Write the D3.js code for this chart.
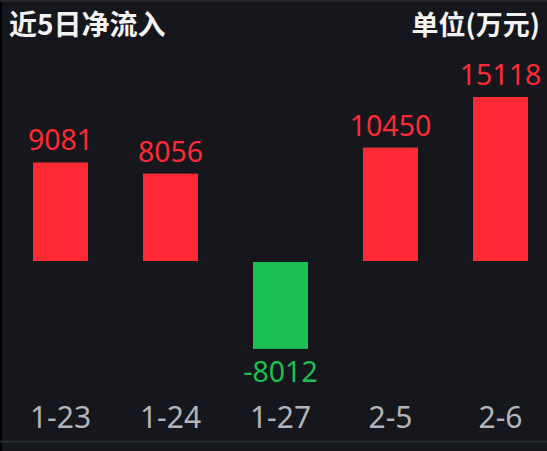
<!DOCTYPE html>
<html>
<head>
<meta charset="utf-8">
<script src="https://cdn.jsdelivr.net/npm/d3@7"></script>
<style>
  html, body { margin: 0; padding: 0; background: #15171c; }
  svg { display: block; }
</style>
</head>
<body>
<svg id="chart"></svg>
<script>
// 数据
const dates = ["1-23", "1-24", "1-27", "2-5", "2-6"];
const netInflow = [9081, 8056, -8012, 10450, 15118];
const titleText = "近5日净流入";
const unitText = "单位(万元)";

const width = 547, height = 451;
const zeroY = 261;
const upColor = "#fd2a36", downColor = "#1cbf52";

const svg = d3.select("#chart").attr("width", width).attr("height", height);

// 背景与边框线
svg.append("rect").attr("width", width).attr("height", height).attr("fill", "#15171c");
svg.append("rect").attr("x", 0).attr("y", 0).attr("width", 2).attr("height", height).attr("fill", "#000");
svg.append("line").attr("x1", 0).attr("x2", width).attr("y1", 1).attr("y2", 1)
  .attr("stroke", "#2c2e33").attr("stroke-width", 1.5);
svg.append("line").attr("x1", 0).attr("x2", width).attr("y1", 441.5).attr("y2", 441.5)
  .attr("stroke", "#2e3035").attr("stroke-width", 1.5);

// 标题
svg.append("text").attr("x", 9).attr("y", 35)
  .attr("fill", "#f2f2f2").attr("font-size", 28).attr("font-weight", "bold")
  .attr("font-family", "'Noto Sans CJK SC', sans-serif")
  .text(titleText);
svg.append("text").attr("x", 540).attr("y", 35).attr("text-anchor", "end")
  .attr("fill", "#f2f2f2").attr("font-size", 27).attr("font-weight", "bold")
  .attr("font-family", "'Noto Sans CJK SC', sans-serif")
  .text(unitText);

// 比例尺
const x = d3.scaleBand().domain(dates).range([5.5, 555.5]).paddingInner(0.5).paddingOuter(0.25);
const y = d3.scaleLinear().domain([-15118, 15118]).range([zeroY + 164, zeroY - 164]);

// 柱子
svg.selectAll("rect.bar")
  .data(netInflow)
  .enter()
  .append("rect")
  .attr("class", "bar")
  .attr("x", (_, i) => x(dates[i]))
  .attr("width", x.bandwidth())
  .attr("y", d => d >= 0 ? y(d) : y(0) + 1)
  .attr("height", d => Math.abs(y(d) - y(0)))
  .attr("fill", d => d >= 0 ? upColor : downColor);

// 数值标签
svg.selectAll("text.val")
  .data(netInflow)
  .enter()
  .append("text")
  .attr("class", "val")
  .attr("x", (_, i) => x(dates[i]) + x.bandwidth() / 2)
  .attr("y", d => d >= 0 ? y(d) - 12 : y(d) + 34)
  .attr("text-anchor", "middle")
  .attr("font-family", "'Noto Sans', sans-serif")
  .attr("font-size", 28.5)
  .attr("fill", d => d >= 0 ? upColor : downColor)
  .text(d => d);

// X 轴标签
const axis = svg.append("g")
  .attr("transform", "translate(0,395)")
  .call(d3.axisBottom(x).tickSize(0).tickPadding(0));
axis.select(".domain").remove();
axis.selectAll("text")
  .attr("dy", "1.1em")
  .attr("y", 0)
  .attr("font-family", "'Noto Sans', sans-serif")
  .attr("font-size", 30)
  .attr("fill", "#b2b4bb");
</script>
</body>
</html>
